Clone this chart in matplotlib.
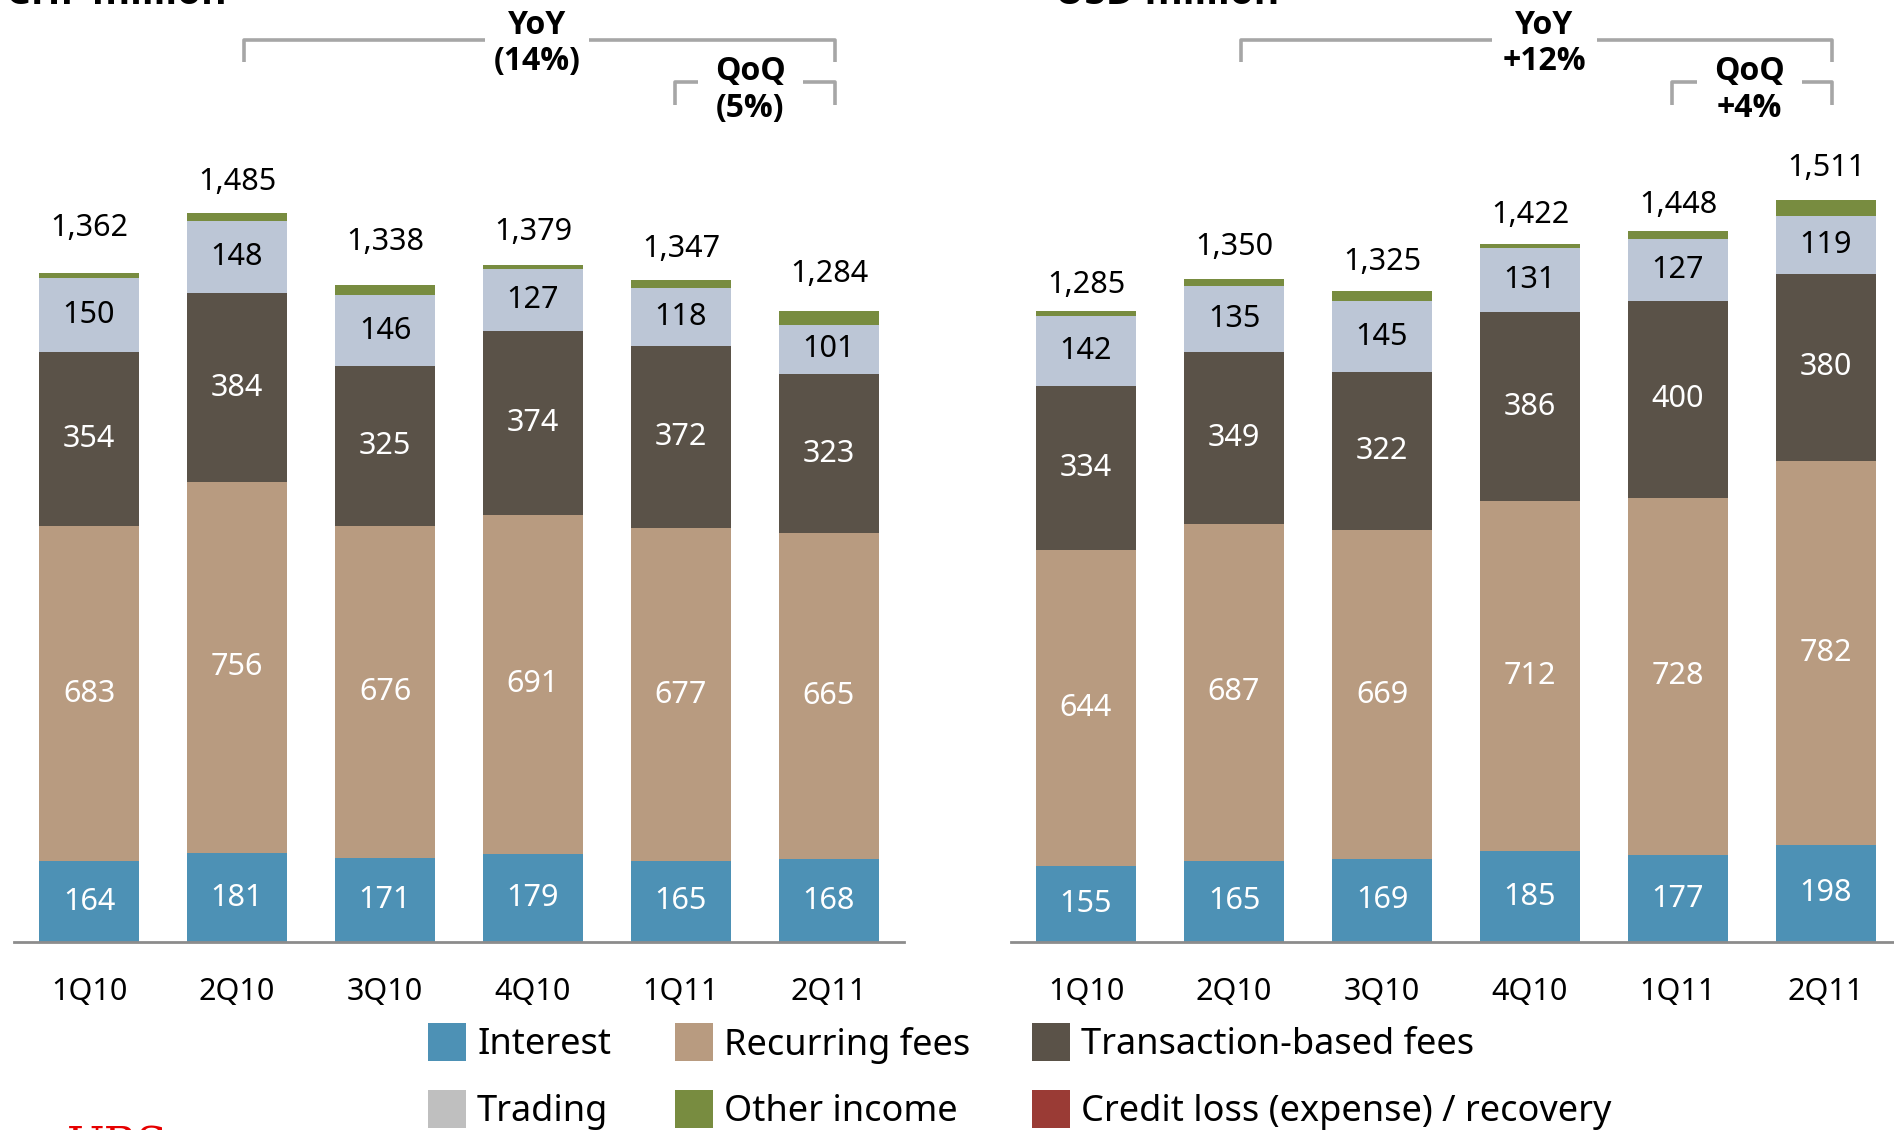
import numpy as np
import matplotlib
matplotlib.use('Agg')
import matplotlib.pyplot as plt
from matplotlib.patches import Rectangle

plt.rcParams['font.family'] = ['Noto Sans', 'DejaVu Sans']
bold_family = ['Open Sans', 'DejaVu Sans']

quarters = ['1Q10', '2Q10', '3Q10', '4Q10', '1Q11', '2Q11']

chf_interest    = [164, 181, 171, 179, 165, 168]
chf_recurring   = [683, 756, 676, 691, 677, 665]
chf_transaction = [354, 384, 325, 374, 372, 323]
chf_trading     = [150, 148, 146, 127, 118, 101]
chf_other       = [11, 16, 20, 8, 15, 27]
chf_total       = [1362, 1485, 1338, 1379, 1347, 1284]

usd_interest    = [155, 165, 169, 185, 177, 198]
usd_recurring   = [644, 687, 669, 712, 728, 782]
usd_transaction = [334, 349, 322, 386, 400, 380]
usd_trading     = [142, 135, 145, 131, 127, 119]
usd_other       = [10, 14, 20, 8, 16, 32]
usd_total       = [1285, 1350, 1325, 1422, 1448, 1511]

chf_yoy, chf_qoq = '(14%)', '(5%)'
usd_yoy, usd_qoq = '+12%', '+4%'

c_interest = '#4d91b5'
c_recurring = '#b89b80'
c_transaction = '#5a5248'
c_trading = '#bcc6d6'
c_other = '#788c40'
c_credit = '#9a3b35'
c_legend_trading = '#bfbfbf'
c_bracket = '#a6a6a6'

W, H = 1894, 1130
fig = plt.figure(figsize=(W / 100, H / 100), dpi=100)

base_px = 942
ax_h = base_px / H


def draw_panel(ax, segs, total, yoy, qoq, yoy_gap, qoq_gap, nudge):
    x = np.arange(len(quarters))
    bottom = np.zeros(len(quarters))
    colors = [c_interest, c_recurring, c_transaction, c_trading, c_other]
    txt = ['white', 'white', 'white', 'black', None]
    cont = None
    for vals, col, tc in zip(segs, colors, txt):
        cont = ax.bar(x, vals, 0.68, bottom=bottom, color=col, linewidth=0)
        if tc is not None:
            ax.bar_label(cont, labels=[str(v) for v in vals], label_type='center',
                         color=tc, fontsize=22)
        bottom += np.array(vals)
    tops = ax.bar_label(cont, labels=['{:,}'.format(t) for t in total], padding=11,
                        fontsize=22, color='black')
    # the totals do not sit at quite the same height above every bar
    for t, n in zip(tops, nudge):
        t.xyann = (0, 11 + n * 0.87)

    ax.set_xlim(-0.507, 5.507)
    ax.set_ylim(0, 1918)
    for s in ['top', 'right', 'left']:
        ax.spines[s].set_visible(False)
    ax.spines['bottom'].set_color('#8c8c8c')
    ax.spines['bottom'].set_linewidth(2)
    ax.set_yticks([])
    ax.set_xticks(x, quarters)
    ax.tick_params(axis='x', length=0, pad=25, labelsize=22)

    bold = dict(ha='center', va='center', fontsize=23, fontweight='bold',
                family=bold_family, clip_on=False)
    # YoY bracket
    lw = 2.6
    xl, xr = 1.05, 5.04
    ax.plot([xl, xl, yoy_gap[0]], [1792, 1837, 1837], color=c_bracket, lw=lw,
            clip_on=False, solid_capstyle='butt')
    ax.plot([yoy_gap[1], xr, xr], [1837, 1837, 1792], color=c_bracket, lw=lw,
            clip_on=False, solid_capstyle='butt')
    yc = (yoy_gap[0] + yoy_gap[1]) / 2
    ax.text(yc, 1866, 'YoY', **bold)
    ax.text(yc, 1792, yoy, **bold)

    # QoQ bracket
    ql = 3.96
    ax.plot([ql, ql, qoq_gap[0]], [1705, 1752, 1752], color=c_bracket, lw=lw,
            clip_on=False, solid_capstyle='butt')
    ax.plot([qoq_gap[1], xr, xr], [1752, 1752, 1705], color=c_bracket, lw=lw,
            clip_on=False, solid_capstyle='butt')
    qc = (qoq_gap[0] + qoq_gap[1]) / 2
    ax.text(qc, 1772, 'QoQ', **bold)
    ax.text(qc, 1697, qoq, **bold)


ax1 = fig.add_axes([14 / W, 1 - ax_h, 890 / W, ax_h])
draw_panel(ax1, [chf_interest, chf_recurring, chf_transaction, chf_trading, chf_other],
           chf_total, chf_yoy, chf_qoq, (2.676, 3.378), (4.115, 4.824),
           [12, 0, 10, 2, 1, 6])

ax2 = fig.add_axes([1011 / W, 1 - ax_h, 890 / W, ax_h])
draw_panel(ax2, [usd_interest, usd_recurring, usd_transaction, usd_trading, usd_other],
           usd_total, usd_yoy, usd_qoq, (2.743, 3.453), (4.128, 4.838),
           [-4, 1, -1, -1, -4, 1])

# titles cut off at the top edge
fig.text(6 / W, 1 - 4 / H, 'CHF million', va='baseline', fontsize=28,
         fontweight='bold', family=bold_family)
fig.text(1055 / W, 1 - 4 / H, 'USD million', va='baseline', fontsize=28,
         fontweight='bold', family=bold_family)

# legend
legend_items = [
    ('Interest', c_interest, 428, 1023),
    ('Recurring fees', c_recurring, 675, 1023),
    ('Transaction-based fees', c_transaction, 1032, 1023),
    ('Trading', c_legend_trading, 428, 1090),
    ('Other income', c_other, 675, 1090),
    ('Credit loss (expense) / recovery', c_credit, 1032, 1090),
]
for name, col, px, py in legend_items:
    fig.add_artist(Rectangle((px / W, 1 - (py + 38) / H), 38 / W, 38 / H,
                             transform=fig.transFigure, color=col, lw=0))
    fig.text((px + 49) / W, 1 - (py + 22) / H, name, va='center', ha='left', fontsize=26)

# logo remnant at the bottom edge
fig.text(67 / W, 1 - 1125 / H, 'UBS', va='top', ha='left', fontsize=32,
         color='#e60000', family='DejaVu Serif')

fig.savefig('out.png', dpi=100)
